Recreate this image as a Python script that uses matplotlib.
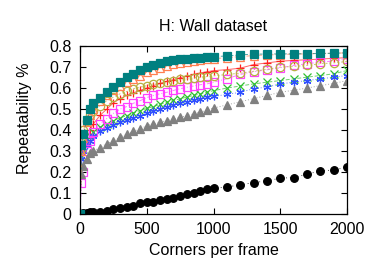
import matplotlib

matplotlib.use("Agg")
import matplotlib.pyplot as plt

plt.rcParams["font.family"] = ["Liberation Sans", "DejaVu Sans"]

# corners per frame (shared sample grid)
corners = [0, 10, 25, 50, 75, 100, 150, 200, 250, 300, 350, 400, 450, 500,
           550, 600, 650, 700, 750, 800, 850, 900, 950, 1000, 1100, 1200,
           1300, 1400, 1500, 1600, 1700, 1800, 1900, 2000]

rep_plus = [0, 0.28, 0.33, 0.36, 0.40, 0.43, 0.47, 0.50, 0.53, 0.55, 0.565,
            0.578, 0.589, 0.60, 0.612, 0.622, 0.632, 0.64, 0.65, 0.657,
            0.665, 0.672, 0.678, 0.683, 0.688, 0.695, 0.712, 0.72, 0.728,
            0.732, 0.735, 0.738, 0.742, 0.745]
rep_cross = [0, 0.27, 0.31, 0.34, 0.37, 0.39, 0.413, 0.43, 0.445, 0.458,
             0.469, 0.481, 0.493, 0.503, 0.512, 0.523, 0.533, 0.541, 0.549,
             0.557, 0.565, 0.572, 0.58, 0.588, 0.60, 0.61, 0.62, 0.628,
             0.636, 0.644, 0.652, 0.66, 0.668, 0.684]
rep_star = [0, 0.26, 0.30, 0.33, 0.35, 0.37, 0.395, 0.41, 0.425, 0.437,
            0.448, 0.458, 0.469, 0.481, 0.493, 0.502, 0.512, 0.52, 0.528,
            0.536, 0.544, 0.55, 0.557, 0.56, 0.57, 0.58, 0.597, 0.605, 0.62,
            0.628, 0.636, 0.644, 0.652, 0.66]
rep_osquare = [0, 0.15, 0.20, 0.30, 0.35, 0.39, 0.43, 0.455, 0.48, 0.50,
               0.512, 0.528, 0.54, 0.555, 0.565, 0.573, 0.58, 0.589, 0.597,
               0.604, 0.61, 0.616, 0.62, 0.628, 0.645, 0.665, 0.678, 0.687,
               0.697, 0.708, 0.716, 0.724, 0.729, 0.74]
rep_fsquare = [0, 0.33, 0.38, 0.45, 0.50, 0.53, 0.555, 0.58, 0.604, 0.628,
               0.652, 0.668, 0.684, 0.70, 0.711, 0.72, 0.728, 0.732, 0.737,
               0.74, 0.742, 0.745, 0.748, 0.75, 0.753, 0.758, 0.762, 0.762,
               0.763, 0.763, 0.764, 0.765, 0.766, 0.768]
rep_ocircle = [0, 0.31, 0.40, 0.445, 0.47, 0.49, 0.517, 0.54, 0.557, 0.573,
               0.584, 0.597, 0.605, 0.612, 0.62, 0.625, 0.628, 0.636, 0.641,
               0.644, 0.649, 0.652, 0.655, 0.658, 0.665, 0.671, 0.68, 0.69,
               0.70, 0.703, 0.708, 0.716, 0.72, 0.727]
rep_fcircle = [0, 0.002, 0.004, 0.006, 0.008, 0.009, 0.011, 0.014, 0.022,
               0.027, 0.033, 0.038, 0.054, 0.059, 0.059, 0.066, 0.07, 0.075,
               0.086, 0.094, 0.102, 0.11, 0.118, 0.123, 0.129, 0.139, 0.15,
               0.158, 0.171, 0.174, 0.19, 0.206, 0.209, 0.225]
rep_otri = [0, 0.30, 0.36, 0.44, 0.47, 0.50, 0.54, 0.565, 0.589, 0.612,
            0.628, 0.644, 0.66, 0.676, 0.687, 0.697, 0.706, 0.714, 0.72,
            0.725, 0.73, 0.734, 0.738, 0.74, 0.745, 0.75, 0.755, 0.758,
            0.76, 0.762, 0.763, 0.765, 0.766, 0.768]
rep_ftri = [0, 0.19, 0.23, 0.26, 0.29, 0.30, 0.317, 0.335, 0.349, 0.365,
            0.381, 0.395, 0.405, 0.421, 0.43, 0.437, 0.445, 0.453, 0.46,
            0.469, 0.477, 0.485, 0.495, 0.505, 0.52, 0.535, 0.55, 0.565,
            0.58, 0.59, 0.60, 0.612, 0.622, 0.636]

# (values, colour, marker, filled, linestyle) in gnuplot point-type order
SERIES = [
    (rep_plus, "#ff2020", "+", True, "-"),
    (rep_cross, "#30c030", "x", True, (0, (4, 2))),
    (rep_star, "#3050ff", (6, 2, 0), True, (0, (1, 2))),
    (rep_osquare, "#ff40ff", "s", False, (0, (4, 2, 1, 2))),
    (rep_ftri, "#808080", "^", True, (0, (1, 2))),
    (rep_ocircle, "#b8b040", "o", False, (0, (2, 2))),
    (rep_fcircle, "#000000", "o", True, (0, (1, 3))),
    (rep_otri, "#ff7f50", "^", False, (0, (4, 2))),
    (rep_fsquare, "#008080", "s", True, (0, (3, 2))),
]

fig = plt.figure(figsize=(3.74, 2.62), dpi=100)
ax = fig.add_axes([0.214, 0.183, 0.714, 0.641])

for vals, col, mk, filled, ls in SERIES:
    ax.plot(corners, vals, color=col, ls=ls, lw=0.7, alpha=0.7)
    ax.plot(corners, vals, ls="none", marker=mk, ms=5.5 if filled else 6,
            mfc=col if filled else "none", mec=col, mew=0.9)

ax.set_xlim(0, 2000)
ax.set_ylim(0, 0.8)
ax.set_xticks([0, 500, 1000, 1500, 2000])
ax.set_yticks([0, 0.1, 0.2, 0.3, 0.4, 0.5, 0.6, 0.7, 0.8])
ax.set_yticklabels(["0", "0.1", "0.2", "0.3", "0.4", "0.5", "0.6", "0.7", "0.8"])
ax.tick_params(direction="in", top=True, right=True, length=4, width=0.8,
               labelsize=11.5, pad=6)
for sp in ax.spines.values():
    sp.set_linewidth(0.9)

ax.set_title("H: Wall dataset", fontsize=11.5, pad=11)
ax.set_xlabel("Corners per frame", fontsize=11.5, labelpad=4)
ax.set_ylabel("Repeatability %", fontsize=11.5)
ax.yaxis.set_label_coords(-0.18, 0.57)

fig.savefig("out.png", dpi=100)
